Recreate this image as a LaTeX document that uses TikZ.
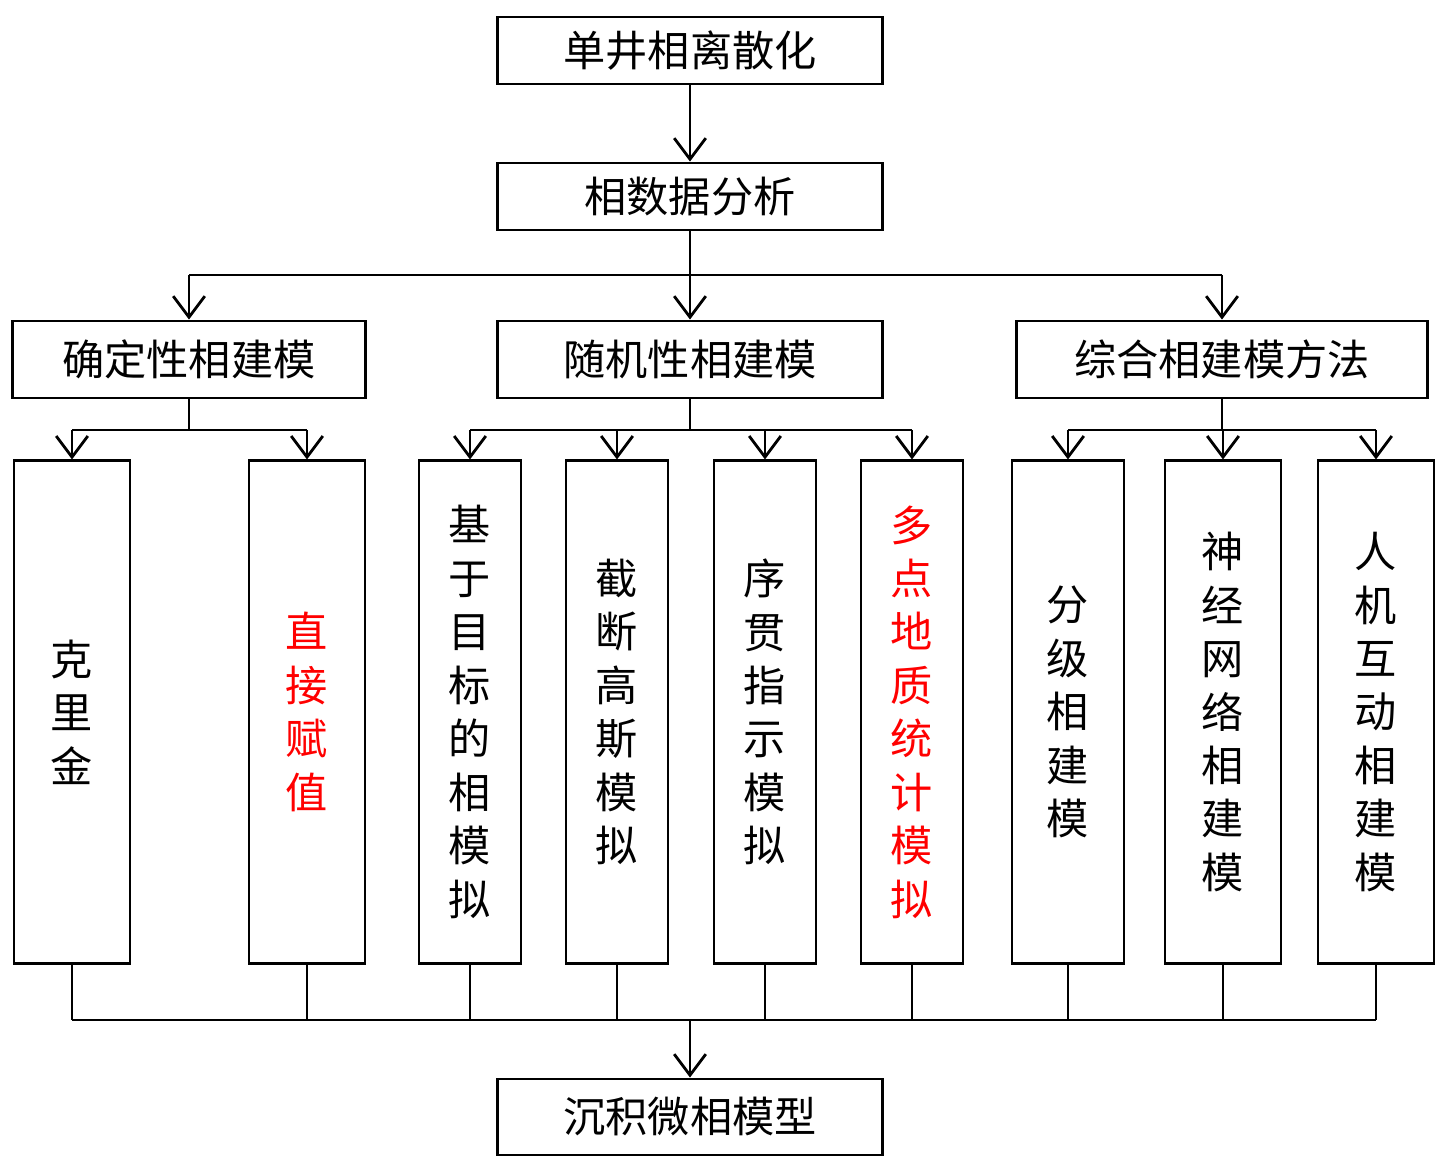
\documentclass[tikz,border=0pt]{standalone}
\usepackage{fontspec}
\setmainfont{Noto Sans CJK SC}
\usetikzlibrary{arrows.meta}
\begin{document}
\begin{tikzpicture}[x=0.01cm,y=-0.01cm,
  box/.style={draw,thick,minimum height=0.67cm,font=\fontsize{12}{14}\selectfont},
  vbox/.style={draw,thick,minimum height=5.02cm,align=center,font=\fontsize{12}{15.2}\selectfont},
  arr/.style={thick,-{Straight Barb[length=6pt,width=9pt]}},
  ln/.style={thick}]
  \useasboundingbox (0,0) rectangle (1441,1161);

  \node (SJ) at (690,50.5) [box,minimum width=3.84cm] {单井相离散化};
  \node (XS) at (690,196.5) [box,minimum width=3.84cm] {相数据分析};
  \node (QD) at (189,359.5) [box,minimum width=3.52cm,minimum height=0.77cm] {确定性相建模};
  \node (SJX) at (690,359.5) [box,minimum width=3.84cm,minimum height=0.77cm] {随机性相建模};
  \node (ZH) at (1222,359.5) [box,minimum width=4.10cm,minimum height=0.77cm] {综合相建模方法};

  \node (KL) at (72,712) [vbox,minimum width=1.16cm] {克\\里\\金};
  \node (ZJ) at (307,712) [vbox,minimum width=1.16cm,text=red] {直\\接\\赋\\值};
  \node (MB) at (470,712) [vbox,minimum width=1.02cm] {基\\于\\目\\标\\的\\相\\模\\拟};
  \node (JD) at (617,712) [vbox,minimum width=1.02cm] {截\\断\\高\\斯\\模\\拟};
  \node (XG) at (765,712) [vbox,minimum width=1.02cm] {序\\贯\\指\\示\\模\\拟};
  \node (DD) at (912,712) [vbox,minimum width=1.02cm,text=red] {多\\点\\地\\质\\统\\计\\模\\拟};
  \node (FJ) at (1068,712) [vbox,minimum width=1.12cm] {分\\级\\相\\建\\模};
  \node (SW) at (1223,712) [vbox,minimum width=1.16cm] {神\\经\\网\\络\\相\\建\\模};
  \node (RJ) at (1376,712) [vbox,minimum width=1.16cm] {人\\机\\互\\动\\相\\建\\模};

  \node (CJ) at (690,1117) [box,minimum width=3.84cm,minimum height=0.76cm] {沉积微相模型};

  \draw[arr] (SJ) -- (XS);
  \coordinate (B1) at (690,275);
  \draw[ln] (XS) -- (B1);
  \draw[ln] (189,275) -- (1222,275);
  \draw[arr] (189,275) -- (QD);
  \draw[arr] (B1) -- (SJX);
  \draw[arr] (1222,275) -- (ZH);

  % branches
  \draw[ln] (QD) -- (189,430) (72,430) -- (307,430);
  \draw[ln] (SJX) -- (690,430) (470,430) -- (912,430);
  \draw[ln] (ZH) -- (1222,430) (1068,430) -- (1376,430);
  \foreach \n/\x in {KL/72,ZJ/307,MB/470,JD/617,XG/765,DD/912,FJ/1068,SW/1223,RJ/1376}{
    \draw[arr] (\x,430) -- (\n.north);
    \draw[ln] (\n.south) -- (\x,1020);
  }
  \draw[ln] (72,1020) -- (1376,1020);
  \coordinate (B2) at (690,1020);
  \draw[arr] (B2) -- (CJ);
\end{tikzpicture}
\end{document}
